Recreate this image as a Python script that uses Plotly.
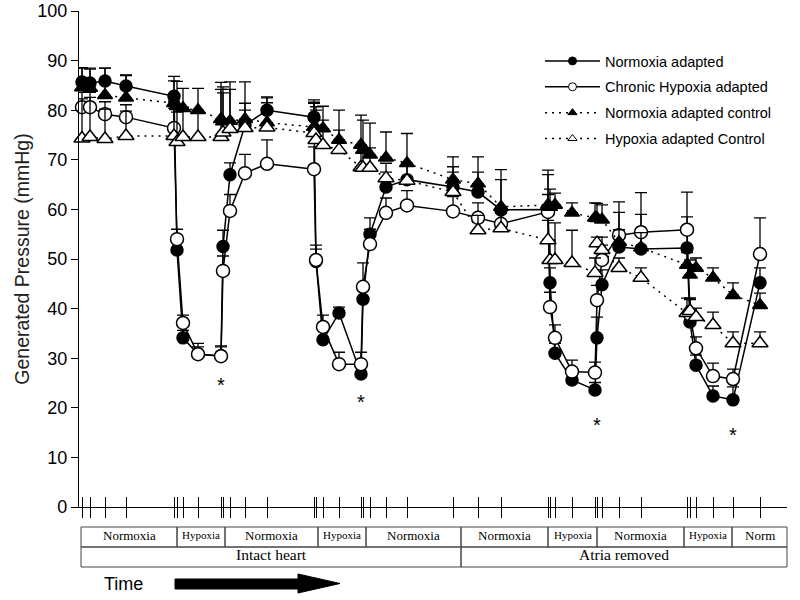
import plotly.graph_objects as go

# ---------------- data (time in arbitrary units along the protocol) ----------------
time = [82, 90, 105, 126, 174, 177, 183, 198, 221, 223, 230, 245, 267,
        314, 316, 323, 339, 361, 363, 370, 386, 407,
        453, 478, 501,
        548, 550, 555, 572, 595, 597, 602, 619, 641,
        687, 690, 696, 713, 733, 760]

normoxia_adapted = [85.7, 85.5, 85.9, 84.9, 82.8, 51.8, 34.1, 30.8, 30.5, 52.5, 67.0, 77.0, 80.0,
                    78.6, 49.5, 33.7, 39.1, 26.8, 41.9, 55.0, 64.5, 66.0,
                    64.5, 63.5, 59.9,
                    60.0, 45.2, 31.0, 25.6, 23.6, 34.1, 44.8, 52.4, 52.0,
                    52.2, 37.3, 28.6, 22.4, 21.6, 45.2]
normoxia_adapted_err = [2.8, 2.8, 2.6, 2.2, 4.0, 2.0, 1.5, 1.5, 2.0, 3.3, 2.4, 3.0, 2.7,
                        3.0, 2.5, 2.0, 1.2, 1.5, 3.0, 3.3, 3.0, 3.3,
                        4.1, 4.0, 6.1,
                        7.0, 3.0, 2.0, 1.5, 1.5, 4.2, 3.0, 7.0, 7.0,
                        6.3, 4.8, 2.0, 2.0, 2.6, 3.0]

chronic_hypoxia = [80.6, 80.6, 79.2, 78.6, 76.4, 54.0, 37.1, 30.8, 30.4, 47.6, 59.7, 67.3, 69.2,
                   68.1, 49.8, 36.3, 28.8, 28.8, 44.4, 53.0, 59.3, 60.8,
                   59.6, 58.3, 57.1,
                   59.5, 40.3, 34.1, 27.3, 27.1, 41.7, 49.8, 54.8, 55.4,
                   55.9, 38.8, 32.0, 26.4, 25.8, 51.0]
chronic_hypoxia_err = [3.0, 3.0, 2.5, 2.5, 4.0, 2.0, 1.6, 2.2, 1.9, 3.0, 3.3, 3.8, 4.8,
                       4.5, 3.0, 2.4, 2.4, 2.4, 4.8, 3.0, 3.0, 3.0,
                       3.0, 3.0, 3.0,
                       3.5, 3.0, 2.6, 2.3, 2.1, 3.0, 3.0, 6.7, 8.0,
                       7.6, 3.0, 2.3, 2.6, 2.0, 7.3]

normoxia_control = [84.6, 84.5, 83.0, 82.5, 81.4, 80.8, 80.4, 80.0, 78.2, 77.7, 77.8, 78.2, 77.5,
                    76.6, 76.4, 76.3, 74.0, 73.0, 72.0, 71.0, 70.4, 69.3,
                    66.0, 65.2, 60.5,
                    60.9, 60.5, 60.9, 59.3, 58.3, 58.2, 57.9, 53.4, 52.3,
                    48.8, 46.8, 48.2, 46.2, 42.7, 40.7]
normoxia_control_err = [4.0, 4.0, 5.5, 4.5, 4.5, 5.0, 4.0, 4.4, 7.4, 7.0, 7.9, 7.5, 5.0,
                        5.5, 4.3, 4.5, 6.0, 6.0, 6.0, 6.4, 5.2, 6.0,
                        4.6, 5.4, 7.5,
                        7.0, 3.6, 2.4, 2.0, 3.0, 3.0, 3.0, 2.5, 3.0,
                        2.5, 3.0, 2.0, 2.0, 2.5, 2.4]

hypoxia_control = [74.3, 74.6, 74.2, 74.8, 74.8, 73.6, 74.6, 74.6, 74.6, 75.5, 76.2, 76.4, 76.5,
                   75.4, 74.0, 73.0, 72.0, 68.5, 68.4, 68.4, 66.3, 65.8,
                   63.5, 55.8, 56.2,
                   53.8, 49.8, 49.8, 49.2, 47.2, 53.2, 51.8, 48.2, 46.2,
                   39.1, 39.5, 38.3, 36.7, 33.0, 33.0]
hypoxia_control_err = [8.0, 8.0, 6.0, 5.0, 7.0, 6.0, 6.0, 5.0, 9.6, 8.0, 8.0, 5.0, 5.0,
                       6.0, 6.0, 5.0, 4.0, 4.0, 4.0, 4.0, 3.0, 3.0,
                       4.0, 3.0, 3.0,
                       4.0, 4.0, 7.5, 6.6, 3.0, 1.2, 2.6, 2.0, 2.0,
                       3.0, 2.6, 1.8, 2.6, 2.3, 2.3]

series_names = ["Normoxia adapted", "Chronic Hypoxia adapted",
                "Normoxia adapted control", "Hypoxia adapted Control"]

# significance markers: index into time, value
star_index = [8, 17, 30, 38]
star_value = [25.0, 21.5, 17.0, 15.0]

# protocol table below the axis
row1_edges = [81, 177, 225, 318, 366, 461, 548, 597, 684, 732, 787]
row1_labels = ["Normoxia", "Hypoxia", "Normoxia", "Hypoxia", "Normoxia",
               "Normoxia", "Hypoxia", "Normoxia", "Hypoxia", "Norm"]
row2_edges = [81, 461, 787]
row2_labels = ["Intact heart", "Atria removed"]

# ---------------- layout geometry (pixels) ----------------
W, H = 800, 600
PL, PR, PT, PB = 79, 787, 11, 507      # plot area in page pixels
L, T, R, B = PL, PT, W - PR, H - PB
X0, X1 = PL, PR


def pxx(px):
    return (px - PL) / (PR - PL)


def pxy(py):
    return (PB - py) / (PB - PT)


fig = go.Figure()

styles = [
    dict(symbol="circle", color="black", size=12, dash="solid"),
    dict(symbol="circle", color="white", size=13, dash="solid"),
    dict(symbol="triangle-up", color="black", size=13, dash="2px,5px"),
    dict(symbol="triangle-up", color="white", size=14, dash="2px,5px"),
]
values = [normoxia_adapted, chronic_hypoxia, normoxia_control, hypoxia_control]
errors = [normoxia_adapted_err, chronic_hypoxia_err, normoxia_control_err, hypoxia_control_err]

for name, vals, errs, st in zip(series_names, values, errors, styles):
    fig.add_trace(go.Scatter(
        x=time, y=vals, mode="lines+markers", name=name, showlegend=False,
        line=dict(color="black", width=1.5, dash=st["dash"]),
        marker=dict(symbol=st["symbol"], size=st["size"], color=st["color"],
                    line=dict(color="black", width=1.5)),
        error_y=dict(type="data", array=errs, arrayminus=[0] * len(errs), symmetric=False,
                     color="black", thickness=1.3, width=6),
        cliponaxis=False,
    ))

# legend-only entries (small markers as in the original legend)
for name, st in zip(series_names, styles):
    fig.add_trace(go.Scatter(
        x=[None], y=[None], mode="lines+markers", name=name,
        line=dict(color="black", width=1.5, dash=st["dash"]),
        marker=dict(symbol=st["symbol"], size=8, color=st["color"],
                    line=dict(color="black", width=1)),
        legendgroup=name,
    ))

# dummy trace to activate secondary (inside tick) axis
fig.add_trace(go.Scatter(x=[None], y=[None], xaxis="x2", showlegend=False, hoverinfo="skip"))

annotations = []
for i, v in zip(star_index, star_value):
    annotations.append(dict(x=time[i], y=v, xref="x", yref="y", text="*", showarrow=False,
                            xanchor="center",
                            font=dict(family="Liberation Sans, Arial", size=20, color="black"),
                            yshift=-2))

shapes = []
row1_top, row1_bot, row2_bot = 527, 547, 567
for i, lab in enumerate(row1_labels):
    a, b = row1_edges[i], row1_edges[i + 1]
    shapes.append(dict(type="rect", xref="paper", yref="paper",
                       x0=pxx(a), x1=pxx(b), y0=pxy(row1_bot), y1=pxy(row1_top),
                       line=dict(color="#444", width=1)))
    small = lab == "Hypoxia"
    annotations.append(dict(x=pxx((a + b) / 2), y=pxy(535), xref="paper", yref="paper",
                            text=lab, showarrow=False, xanchor="center", yanchor="middle",
                            font=dict(family="Liberation Serif, Times New Roman", size=11 if small else 13,
                                      color="black")))
for i, lab in enumerate(row2_labels):
    a, b = row2_edges[i], row2_edges[i + 1]
    shapes.append(dict(type="rect", xref="paper", yref="paper",
                       x0=pxx(a), x1=pxx(b), y0=pxy(row2_bot), y1=pxy(row1_bot),
                       line=dict(color="#444", width=1)))
    annotations.append(dict(x=pxx((a + b) / 2), y=pxy(554), xref="paper", yref="paper",
                            text=lab, showarrow=False, xanchor="center", yanchor="middle",
                            font=dict(family="Liberation Serif, Times New Roman", size=15.5, color="black")))

# Time arrow
annotations.append(dict(x=pxx(123), y=pxy(584), xref="paper", yref="paper", text="Time",
                        showarrow=False, xanchor="center", yanchor="middle",
                        font=dict(family="Liberation Sans, Arial", size=18, color="black")))
arrow_pts = [(175, 579), (298, 579), (298, 574), (340, 583.5), (298, 593), (298, 589), (175, 589)]
path = "M " + " L ".join(f"{pxx(x):.5f},{pxy(y):.5f}" for x, y in arrow_pts) + " Z"
shapes.append(dict(type="path", xref="paper", yref="paper", path=path,
                   fillcolor="black", line=dict(color="black", width=1)))

fig.update_layout(
    width=W, height=H,
    margin=dict(l=L, r=R, t=T, b=B, autoexpand=False),
    paper_bgcolor="white", plot_bgcolor="white",
    font=dict(family="Liberation Sans, Arial", color="black"),
    xaxis=dict(range=[X0, X1], showgrid=False, zeroline=False, showline=True, automargin=False,
               linecolor="black", linewidth=1.3, tickvals=time, ticktext=[""] * len(time),
               ticks="outside", ticklen=10, tickwidth=1, tickcolor="black", showticklabels=False),
    xaxis2=dict(range=[X0, X1], overlaying="x", anchor="y", side="bottom", showgrid=False,
                zeroline=False, showline=False, tickvals=time, ticks="inside", ticklen=10,
                tickwidth=1, tickcolor="black", showticklabels=False, automargin=False),
    yaxis=dict(range=[0, 100], showgrid=False, zeroline=False, showline=True, linecolor="black",
               linewidth=1.3, tickvals=list(range(0, 101, 10)), ticks="outside", ticklen=7,
               tickcolor="black", tickfont=dict(size=18, color="black"), automargin=False,
               ticklabeloverflow="allow",
               title=dict(text="Generated Pressure (mmHg)", font=dict(size=19.5, color="#222"),
                          standoff=2)),
    legend=dict(x=pxx(540), y=pxy(45), xanchor="left", yanchor="top",
                bgcolor="rgba(0,0,0,0)", font=dict(size=14.5, color="black"),
                itemwidth=55, tracegroupgap=4),
    shapes=shapes, annotations=annotations,
)

fig.write_html("out.html", config={"displayModeBar": False},
               post_script="document.body.style.margin='0';document.body.style.padding='0';")
